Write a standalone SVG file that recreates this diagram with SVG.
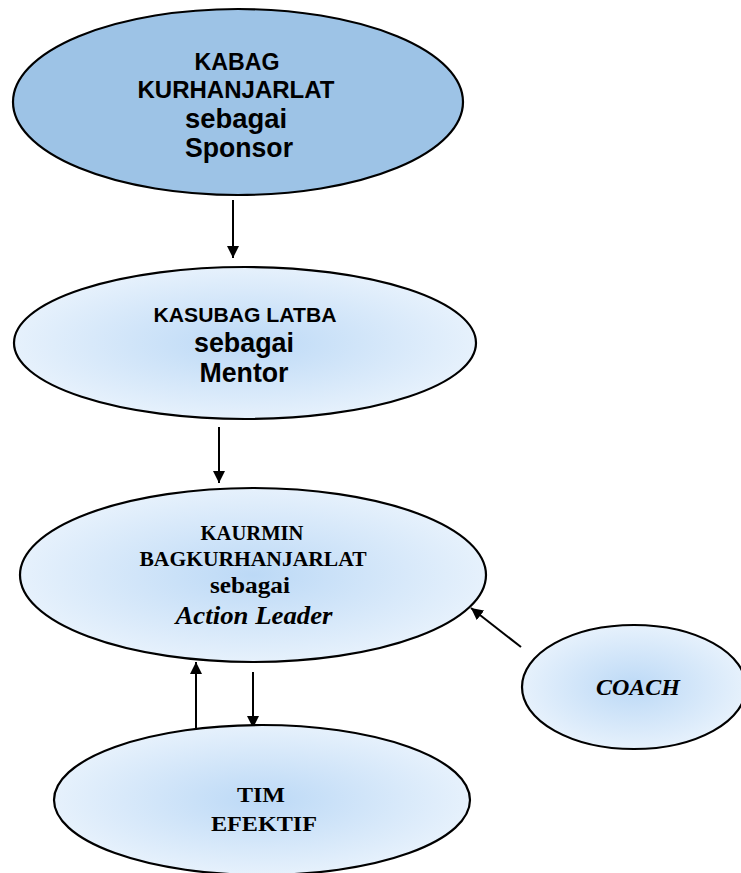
<svg xmlns="http://www.w3.org/2000/svg" width="741" height="873" viewBox="0 0 741 873">
<defs>
<radialGradient id="g" cx="50%" cy="50%" r="50%">
<stop offset="0" stop-color="#bcd9f6"/>
<stop offset="1" stop-color="#e6f1fc"/>
</radialGradient>
<marker id="ah" viewBox="0 0 12 12" refX="12" refY="6" markerWidth="12" markerHeight="12" markerUnits="userSpaceOnUse" orient="auto">
<path d="M0,0 L12,6 L0,12 Z" fill="#000"/>
</marker>
<style>
.sh{stroke:#000;stroke-width:2.2}
.c{stroke:#000;stroke-width:2;fill:none;marker-end:url(#ah)}
.a{font-family:"Liberation Sans",Arial,sans-serif;font-weight:bold;fill:#000;text-anchor:middle}
.t{font-family:"Liberation Serif","Times New Roman",serif;font-weight:bold;fill:#000;text-anchor:middle}
</style>
</defs>
<rect width="741" height="873" fill="#fff"/>
<g id="connectors">
<line class="c" x1="233" y1="200" x2="233" y2="258"/>
<line class="c" x1="219" y1="427" x2="219" y2="483"/>
<line class="c" x1="196" y1="728" x2="196" y2="662"/>
<line class="c" x1="253" y1="672" x2="253" y2="728"/>
<line class="c" x1="521" y1="647" x2="471" y2="608"/>
</g>
<g id="sponsor">
<ellipse class="sh" cx="238" cy="102" rx="225" ry="93" fill="#9dc3e6"/>
<text class="a" x="237" y="70" font-size="23" textLength="85" lengthAdjust="spacingAndGlyphs">KABAG</text>
<text class="a" x="236" y="98" font-size="23" textLength="197" lengthAdjust="spacingAndGlyphs">KURHANJARLAT</text>
<text class="a" x="236" y="128" font-size="27" textLength="102" lengthAdjust="spacingAndGlyphs">sebagai</text>
<text class="a" x="239" y="157" font-size="27" textLength="108" lengthAdjust="spacingAndGlyphs">Sponsor</text>
</g>
<g id="mentor">
<ellipse class="sh" cx="245" cy="343" rx="231" ry="76" fill="url(#g)"/>
<text class="a" x="245" y="322" font-size="20" textLength="183" lengthAdjust="spacingAndGlyphs">KASUBAG LATBA</text>
<text class="a" x="244" y="352" font-size="27" textLength="100" lengthAdjust="spacingAndGlyphs">sebagai</text>
<text class="a" x="244" y="382" font-size="27" textLength="89" lengthAdjust="spacingAndGlyphs">Mentor</text>
</g>
<g id="action-leader">
<ellipse class="sh" cx="253" cy="575" rx="233" ry="87" fill="url(#g)"/>
<text class="t" x="252" y="540" font-size="22" textLength="103" lengthAdjust="spacingAndGlyphs">KAURMIN</text>
<text class="t" x="253" y="566" font-size="22" textLength="227" lengthAdjust="spacingAndGlyphs">BAGKURHANJARLAT</text>
<text class="t" x="250" y="593" font-size="24" textLength="80" lengthAdjust="spacingAndGlyphs">sebagai</text>
<text class="t" x="254" y="624" font-size="26" font-style="italic" textLength="157" lengthAdjust="spacingAndGlyphs">Action Leader</text>
</g>
<g id="coach">
<ellipse class="sh" cx="634" cy="687" rx="112" ry="62" fill="url(#g)"/>
<text class="t" x="638" y="695" font-size="23" font-style="italic" textLength="84" lengthAdjust="spacingAndGlyphs">COACH</text>
</g>
<g id="tim-efektif">
<ellipse class="sh" cx="262" cy="800" rx="208" ry="75" fill="url(#g)"/>
<text class="t" x="261" y="802" font-size="22" textLength="48" lengthAdjust="spacingAndGlyphs">TIM</text>
<text class="t" x="264" y="831" font-size="22" textLength="106" lengthAdjust="spacingAndGlyphs">EFEKTIF</text>
</g>
</svg>
